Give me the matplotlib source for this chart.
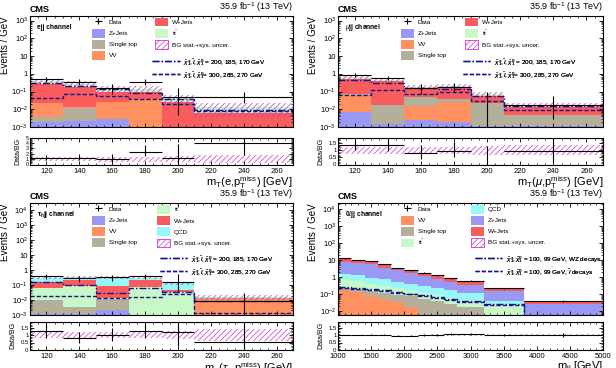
import numpy as np
import matplotlib.pyplot as plt
import matplotlib.ticker as ticker
from matplotlib.patches import Patch
from matplotlib.lines import Line2D

plt.rcParams['font.family'] = ['Liberation Sans', 'DejaVu Sans']
plt.rcParams['mathtext.fontset'] = 'custom'
plt.rcParams['mathtext.rm'] = 'Liberation Sans'
plt.rcParams['mathtext.it'] = 'Liberation Sans:italic'
plt.rcParams['mathtext.bf'] = 'Liberation Sans:bold'
plt.rcParams['hatch.linewidth'] = 0.5

# binning
mt_edges = [110, 130, 150, 170, 190, 210, 270]
mjj_edges = [1000, 1200, 1400, 1600, 1800, 2000, 2200, 2400, 2600, 2800, 3200, 3800, 5000]

# ---- ejj channel (events / GeV)
e_data = [0.48, 0.35, 0.15, 0.35, 0.05, 0.05]
e_err_lo = [0.15, 0.13, 0.08, 0.13, 0.045, 0.027]
e_err_hi = [0.20, 0.17, 0.12, 0.17, 0.11, 0.05]
e_zjets = [0.0019, 0.0022, 0.0028, 0, 0, 0]
e_stop = [0.0018, 0.0095, 0, 0, 0, 0]
e_vv = [0.018, 0.0013, 0.022, 0.04, 0, 0]
e_wjets = [0.24, 0.17, 0.075, 0.055, 0.026, 0.0065]
e_tt = [0.11, 0.087, 0.036, 0.051, 0.016, 0.0063]
e_unc = [0.4, 0.4, 0.45, 0.45, 0.5, 0.7]
e_sig1 = [0.30, 0.20, 0.13, 0.085, 0.038, 0.0095]
e_sig2 = [0.044, 0.07, 0.055, 0.038, 0.019, 0.0085]

# ---- mujj channel
m_data = [0.85, 0.60, 0.15, 0.19, 0.0, 0.0167]
m_err_lo = [0.2, 0.17, 0.08, 0.09, 0.0, 0.0138]
m_err_hi = [0.22, 0.19, 0.11, 0.12, 0.09, 0.038]
m_zjets = [0.007, 0.0014, 0.0026, 0.002, 0.0012, 0.0012]
m_vv = [0.058, 0, 0.012, 0.024, 0, 0]
m_stop = [0.003, 0.016, 0.032, 0.012, 0.02, 0.0034]
m_wjets = [0.45, 0.36, 0.10, 0.11, 0.035, 0.008]
m_tt = [0.11, 0.07, 0.044, 0.052, 0.014, 0.0044]
m_unc = [0.25, 0.25, 0.25, 0.25, 0.3, 0.35]
m_sig1 = [0.42, 0.30, 0.16, 0.13, 0.055, 0.015]
m_sig2 = [0.065, 0.12, 0.075, 0.095, 0.03, 0.009]

# ---- tauh jj channel
t_data = [0.40, 0.28, 0.33, 0.39, 0.16, 0.0088]
t_err_lo = [0.14, 0.12, 0.13, 0.14, 0.12, 0.0073]
t_err_hi = [0.16, 0.14, 0.15, 0.16, 0.35, 0.02]
t_zjets = [0.0012, 0.0012, 0.002, 0, 0, 0]
t_stop = [0.0088, 0.0023, 0.0097, 0, 0, 0]
t_vv = [0, 0, 0, 0, 0, 0.014]
t_tt = [0.056, 0.077, 0.003, 0.073, 0.035, 0]
t_wjets = [0.09, 0.15, 0.07, 0.157, 0.01, 0]
t_qcd = [0.16, 0.12, 0.245, 0.08, 0.09, 0.002]
t_unc = [0.22, 0.22, 0.22, 0.22, 0.25, 0.4]
t_sig1 = [0.15, 0.10, 0.03, 0.06, 0.035, 0.009]
t_sig2 = [0.02, 0.02, 0.013, 0.016, 0.025, 0.0014]

# ---- 0l jj channel
z_data = [12.8, 9.9, 8.4, 5.8, 3.4, 2.5, 1.8, 1.32, 0.89, 0.62, 0.22, 0.039]
z_err = [0.25, 0.22, 0.2, 0.17, 0.13, 0.11, 0.095, 0.08, 0.065, 0.039, 0.019, 0.0057]
z_vv = [0.166, 0.13, 0.084, 0.053, 0.034, 0.017, 0, 0, 0, 0, 0, 0]
z_stop = [0.074, 0.06, 0.066, 0.067, 0.062, 0.06, 0.049, 0.039, 0.025, 0.018, 0, 0]
z_tt = [0.5, 0.4, 0.26, 0.18, 0.144, 0.093, 0.071, 0.057, 0.036, 0.025, 0.025, 0]
z_qcd = [0.86, 0.71, 0.52, 0.44, 0.3, 0.24, 0.18, 0.124, 0.109, 0.077, 0.014, 0]
z_zjets = [6.7, 5.9, 4.77, 2.86, 1.96, 1.39, 0.9, 0.59, 0.37, 0.25, 0.11, 0.027]
z_wjets = [4.5, 2.7, 2.6, 2.1, 1.1, 0.8, 0.6, 0.49, 0.31, 0.22, 0.07, 0.012]
z_unc = [0.03, 0.03, 0.03, 0.03, 0.03, 0.03, 0.03, 0.04, 0.05, 0.06, 0.06, 0.08]
z_sig1 = [0.25, 0.23, 0.20, 0.17, 0.13, 0.11, 0.085, 0.065, 0.05, 0.04, 0.025, 0.005]
z_sig2 = [0.23, 0.21, 0.18, 0.15, 0.12, 0.10, 0.078, 0.06, 0.046, 0.036, 0.022, 0.004]

colors = {'Z+Jets': '#9999f5', 'Single top': '#b4af9b', 'VV': '#ff9060',
          'W+Jets': '#f85c5c', 'tt': '#c8f8c8', 'QCD': '#98f8f8'}
labels = {'tt': r'$\mathrm{t\bar{t}}$'}
hatch_col = '#cc33cc'
sig_col = '#14148c'
ls_sig1 = (0, (5, 1.5, 1, 1.5))
ls_sig2 = (0, (3, 1.5))

lab_a1 = r'$\tilde{\chi}^{\pm}_{1}, \tilde{l}, \tilde{\chi}^{0}_{1}$ = 200, 185, 170 GeV'
lab_a2 = r'$\tilde{\chi}^{\pm}_{1}, \tilde{l}, \tilde{\chi}^{0}_{1}$= 300, 285, 270 GeV'
lab_b1 = r'$\tilde{\chi}^{\pm}_{1}, \tilde{\chi}^{0}_{1}$ = 100, 99 GeV, WZ decays'
lab_b2 = r'$\tilde{\chi}^{\pm}_{1}, \tilde{\chi}^{0}_{1}$ = 100, 99 GeV, $\tilde{l}$ decays'


def log_label(v, pos):
    n = int(round(np.log10(v)))
    if n == 0:
        return '1'
    if n == 1:
        return '10'
    return r'$10^{%d}$' % n


def add_leg(ax, handles, labs, x, y, hl=2.0):
    leg = ax.legend(handles, labs, loc='upper left', bbox_to_anchor=(x, y),
                    frameon=False, fontsize=4.6, handlelength=hl, handleheight=1.75,
                    labelspacing=0.35, borderpad=0, borderaxespad=0, handletextpad=0.6)
    ax.add_artist(leg)


def draw_panel(ax, axr, edges, stack, data, lo, hi, unc, sig1, sig2, ylim, rlim, rmajor,
               rlabsize, xmajor, xminor, xlabel, channel, left_names, right_names, legx,
               sigy, siglabs, sigx):
    edges = np.asarray(edges, float)
    centers = 0.5 * (edges[1:] + edges[:-1])
    half = 0.5 * np.diff(edges)
    data = np.asarray(data, float)
    lo = np.asarray(lo, float)
    hi = np.asarray(hi, float)
    unc = np.asarray(unc, float)

    bottom = np.full(len(centers), 1e-9)
    for name, vals in stack:
        top = bottom + np.asarray(vals, float)
        ax.stairs(top, edges, baseline=bottom, fill=True, color=colors[name], lw=0)
        bottom = top
    total = bottom

    ax.stairs(total * (1 + unc), edges, baseline=total * (1 - unc), fill=True,
              facecolor='none', edgecolor=hatch_col, hatch='//////', lw=0)
    ax.stairs(sig1, edges, baseline=None, color=sig_col, ls=ls_sig1, lw=1.0)
    ax.stairs(sig2, edges, baseline=None, color=sig_col, ls=ls_sig2, lw=1.0)
    dh = ax.errorbar(centers, data, xerr=half, yerr=[lo, hi], fmt='none', ecolor='k',
                     elinewidth=0.8, capsize=0)

    ax.set_yscale('log')
    ax.set_ylim(*ylim)
    ax.set_xlim(edges[0], edges[-1])
    ax.yaxis.set_major_locator(ticker.LogLocator(base=10, numticks=20))
    ax.yaxis.set_minor_locator(ticker.LogLocator(base=10, subs=np.arange(2, 10), numticks=20))
    ax.yaxis.set_major_formatter(ticker.FuncFormatter(log_label))
    ax.yaxis.set_minor_formatter(ticker.NullFormatter())
    ax.set_ylabel('Events / GeV', fontsize=7, loc='top', labelpad=1)
    ax.tick_params(labelbottom=False)

    # ratio
    axr.stairs(1 + unc, edges, baseline=1 - unc, fill=True, facecolor='none',
               edgecolor=hatch_col, hatch='//////', lw=0)
    axr.errorbar(centers, data / total, xerr=half, yerr=[lo / total, hi / total], fmt='none',
                 ecolor='k', elinewidth=0.8, capsize=0)
    axr.set_xlim(edges[0], edges[-1])
    axr.set_ylim(*rlim)
    axr.yaxis.set_major_locator(ticker.MultipleLocator(rmajor))
    axr.yaxis.set_minor_locator(ticker.MultipleLocator(rmajor / 5))
    axr.yaxis.set_major_formatter(ticker.FuncFormatter(lambda v, p: '%g' % v))
    axr.set_ylabel('Data/BG', fontsize=5, labelpad=3)
    axr.set_xlabel(xlabel, fontsize=8, loc='right', labelpad=-0.5)

    for a in (ax, axr):
        a.xaxis.set_major_locator(ticker.MultipleLocator(xmajor))
        a.xaxis.set_minor_locator(ticker.MultipleLocator(xminor))
        a.tick_params(which='both', direction='in', top=True, right=True, labelsize=5.5, pad=1.5)
        a.tick_params(which='major', length=3, width=0.6)
        a.tick_params(which='minor', length=1.5, width=0.5)
        for s in a.spines.values():
            s.set_linewidth(0.8)
    axr.tick_params(axis='y', labelsize=rlabsize, pad=1)
    axr.tick_params(axis='x', pad=2.5)

    ax.text(0.0, 1.015, 'CMS', transform=ax.transAxes, fontsize=6.5, fontweight='bold',
            ha='left', va='bottom')
    ax.text(1.0, 1.015, r'35.9 fb$^{-1}$ (13 TeV)', transform=ax.transAxes, fontsize=6.5,
            ha='right', va='bottom')
    ax.text(0.025, 0.9, channel, transform=ax.transAxes, fontsize=4.8, fontweight='bold',
            ha='left', va='center')

    def handle(name):
        if name == 'Data':
            return dh, 'Data'
        if name == 'BG':
            return (Patch(facecolor='none', edgecolor=hatch_col, hatch='//////', lw=0.6),
                    'BG stat.+sys. uncer.')
        return Patch(facecolor=colors[name], lw=0), labels.get(name, name)

    hl_, ll_ = zip(*[handle(n) for n in left_names])
    add_leg(ax, hl_, ll_, legx[0], 0.985)
    hr_, lr_ = zip(*[handle(n) for n in right_names])
    add_leg(ax, hr_, lr_, legx[1], 0.985)
    sh = [Line2D([], [], color=sig_col, ls=ls_sig1, lw=1.0),
          Line2D([], [], color=sig_col, ls=ls_sig2, lw=1.0)]
    add_leg(ax, sh, siglabs, sigx, sigy, hl=4.3)


fig = plt.figure(figsize=(6.16, 3.68), dpi=100)
W, H = 616.0, 368.0


def axes_pair(left, right, top, mid, rtop, rbot):
    ax = fig.add_axes([left / W, (H - mid) / H, (right - left) / W, (mid - top) / H])
    axr = fig.add_axes([left / W, (H - rbot) / H, (right - left) / W, (rbot - rtop) / H])
    return ax, axr


ax1, ax1r = axes_pair(30, 293, 16, 127, 137.5, 164.5)
ax2, ax2r = axes_pair(338, 603, 16, 127, 137.5, 164.5)
ax3, ax3r = axes_pair(30, 293, 203, 315, 321.5, 350)
ax4, ax4r = axes_pair(338, 603, 203, 315, 321.5, 350)

draw_panel(ax1, ax1r, mt_edges,
           [('Z+Jets', e_zjets), ('Single top', e_stop), ('VV', e_vv), ('W+Jets', e_wjets), ('tt', e_tt)],
           e_data, e_err_lo, e_err_hi, e_unc, e_sig1, e_sig2, (1e-3, 1.8e3), (0, 5), 1, 3.8,
           20, 5, r'm$_\mathrm{T}$(e,p$_\mathrm{T}^\mathrm{miss}$) [GeV]', 'ejj channel',
           ['Data', 'Z+Jets', 'Single top', 'VV'], ['W+Jets', 'tt', 'BG'],
           (0.236, 0.475), 0.63, [lab_a1, lab_a2], 0.464)

draw_panel(ax2, ax2r, mt_edges,
           [('Z+Jets', m_zjets), ('VV', m_vv), ('Single top', m_stop), ('W+Jets', m_wjets), ('tt', m_tt)],
           m_data, m_err_lo, m_err_hi, m_unc, m_sig1, m_sig2, (1e-3, 1.8e3), (0, 1.9), 0.5, 4.3,
           20, 5, r'm$_\mathrm{T}$($\mu$,p$_\mathrm{T}^\mathrm{miss}$) [GeV]', r'$\mu$jj channel',
           ['Data', 'Z+Jets', 'VV', 'Single top'], ['W+Jets', 'tt', 'BG'],
           (0.238, 0.479), 0.63, [lab_a1, lab_a2], 0.47)

draw_panel(ax3, ax3r, mt_edges,
           [('Z+Jets', t_zjets), ('Single top', t_stop), ('VV', t_vv), ('tt', t_tt), ('W+Jets', t_wjets), ('QCD', t_qcd)],
           t_data, t_err_lo, t_err_hi, t_unc, t_sig1, t_sig2, (1e-3, 3e4), (0, 1.9), 0.5, 4.3,
           20, 5, r'm$_\mathrm{T}$($\tau_\mathrm{h}$,p$_\mathrm{T}^\mathrm{miss}$) [GeV]',
           r'$\mathbf{\tau_h}$jj channel',
           ['Data', 'Z+Jets', 'VV', 'Single top'], ['tt', 'W+Jets', 'QCD', 'BG'],
           (0.236, 0.483), 0.545, [lab_a1, lab_a2], 0.494)

draw_panel(ax4, ax4r, mjj_edges,
           [('VV', z_vv), ('Single top', z_stop), ('tt', z_tt), ('QCD', z_qcd), ('Z+Jets', z_zjets), ('W+Jets', z_wjets)],
           z_data, z_err, z_err, z_unc, z_sig1, z_sig2, (6e-3, 2.3e4), (0, 1.9), 0.5, 4.3,
           500, 100, r'm$_\mathrm{jj}$ [GeV]', r'0$\ell$jj channel',
           ['Data', 'VV', 'Single top', 'tt'], ['QCD', 'Z+Jets', 'W+Jets', 'BG'],
           (0.238, 0.502), 0.545, [lab_b1, lab_b2], 0.517)

fig.savefig('out.png', dpi=100)
